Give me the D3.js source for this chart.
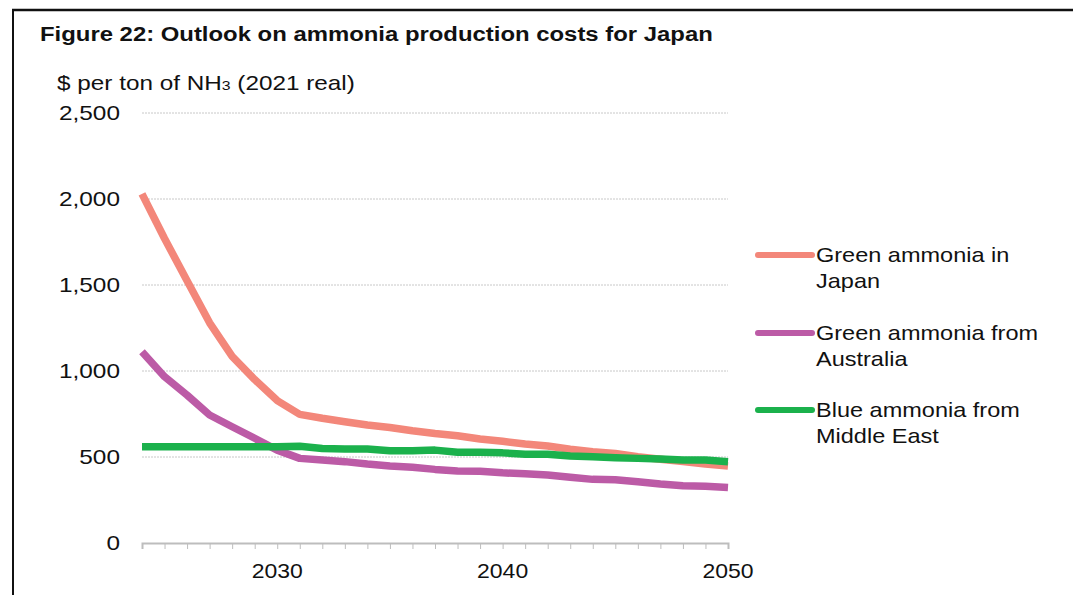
<!DOCTYPE html>
<html><head><meta charset="utf-8">
<script src="https://cdn.jsdelivr.net/npm/d3@7"></script>
<style>
html,body{margin:0;padding:0;background:#fff;}
svg{display:block;font-family:"Liberation Sans",Arial,sans-serif;}
</style></head>
<body>
<svg id="chart" width="1073" height="595"></svg>
<script>
const years = d3.range(2024, 2051);
const greenJapan = [2030,1770,1525,1280,1085,950,828,748,725,705,686,672,653,637,624,605,591,576,564,545,531,521,502,487,473,459,448];
const greenAustralia = [1112,967,860,744,676,609,540,492,483,473,459,448,440,428,419,417,408,402,395,382,370,368,356,343,333,330,322];
const blueMiddleEast = [560,560,560,560,560,560,560,562,550,547,547,537,537,540,527,527,524,516,516,506,502,496,492,488,483,483,473];
const seriesNames = [["Green ammonia in","Japan"],["Green ammonia from","Australia"],["Blue ammonia from","Middle East"]];
const seriesColors = ["#F3877A","#BC5BA6","#1BB14C"];
const yTicks = [0,500,1000,1500,2000,2500];
const xTickLabels = [2030,2040,2050];

const svg = d3.select("#chart");
const x = d3.scaleLinear().domain([2024,2050]).range([142,728]);
const y = d3.scaleLinear().domain([0,2500]).range([543,113]);

function stretchTo(node, anchorX, width){
  const w = node.getBBox().width;
  const k = width / w;
  d3.select(node).attr("transform",`translate(${anchorX},0) scale(${k},1) translate(${-anchorX},0)`);
}
function stretchBy(node, anchorX, k){
  d3.select(node).attr("transform",`translate(${anchorX},0) scale(${k},1) translate(${-anchorX},0)`);
}

// frame
svg.append("line").attr("x1",12).attr("x2",1073).attr("y1",10).attr("y2",10).attr("stroke","#111").attr("stroke-width",2.5);
svg.append("line").attr("x1",13).attr("x2",13).attr("y1",9).attr("y2",595).attr("stroke","#111").attr("stroke-width",2);

// title
const title = svg.append("text").attr("x",40).attr("y",41).attr("font-size",21).attr("font-weight","bold").attr("fill","#111")
  .text("Figure 22: Outlook on ammonia production costs for Japan");
stretchTo(title.node(),40,673);
const yt = svg.append("text").attr("x",57).attr("y",90).attr("font-size",20).attr("fill","#111");
yt.append("tspan").text("$ per ton of NH");
yt.append("tspan").attr("font-size",13).text("3");
yt.append("tspan").text(" (2021 real)");
stretchTo(yt.node(),57,298);

// gridlines
svg.append("g").selectAll("line").data(yTicks.filter(d=>d>0)).join("line")
  .attr("x1",142).attr("x2",728).attr("y1",d=>y(d)).attr("y2",d=>y(d))
  .attr("stroke","#c8c8c8").attr("stroke-width",1).attr("stroke-dasharray","2,1");

// y labels
svg.append("g").selectAll("text").data(yTicks).join("text")
  .attr("x",120).attr("y",d=>y(d)+7).attr("text-anchor","end").attr("font-size",20).attr("fill","#111")
  .text(d=>d3.format(",")(d))
  .each(function(){ stretchBy(this,120,1.22); });

// x axis
const xAxis = d3.axisBottom(x).tickValues(years).tickSize(6).tickFormat("");
const gx = svg.append("g").attr("transform","translate(0,543)").call(xAxis);
gx.select(".domain").attr("stroke","#bdbdbd").attr("stroke-width",2);
gx.selectAll(".tick line").attr("stroke","#bdbdbd").attr("stroke-width",1);
svg.append("g").selectAll("text").data(xTickLabels).join("text")
  .attr("x",d=>x(d)).attr("y",578).attr("text-anchor","middle").attr("font-size",20).attr("fill","#111")
  .text(d=>d)
  .each(function(d){ stretchBy(this,x(d),1.15); });

// lines
const allSeries = [greenJapan, greenAustralia, blueMiddleEast];
const line = d3.line().x((d,i)=>x(years[i])).y(d=>y(d));
allSeries.forEach((s,k)=>{
  svg.append("path").datum(s).attr("d",line).attr("fill","none")
    .attr("stroke",seriesColors[k]).attr("stroke-width",7.5).attr("stroke-linejoin","round");
});

// legend
const legY = [255,333,410];
seriesNames.forEach((nm,k)=>{
  svg.append("line").attr("x1",758).attr("x2",812).attr("y1",legY[k]).attr("y2",legY[k])
    .attr("stroke",seriesColors[k]).attr("stroke-width",6).attr("stroke-linecap","round");
  const t = svg.append("text").attr("x",816).attr("y",legY[k]+7).attr("font-size",21).attr("fill","#111");
  t.append("tspan").attr("x",816).text(nm[0]);
  t.append("tspan").attr("x",816).attr("dy",26).text(nm[1]);
  stretchBy(t.node(),816,1.12);
});
</script>
</body></html>
